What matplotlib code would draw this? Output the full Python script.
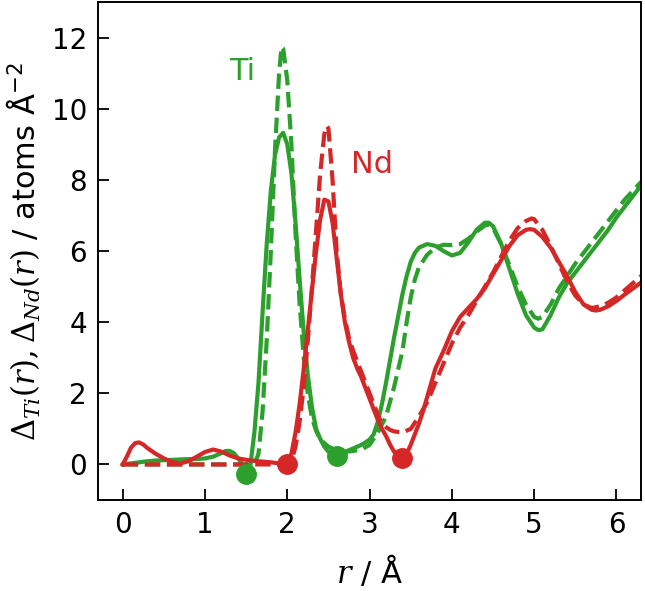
import numpy as np
import matplotlib
matplotlib.use('Agg')
import matplotlib.pyplot as plt

# Ti, solid
r_ti = [0.0, 0.1, 0.2, 0.3, 0.4, 0.5, 0.6, 0.7, 0.8, 0.9, 1.0, 1.1, 1.2, 1.25, 1.3,
        1.35, 1.4, 1.45, 1.5, 1.55, 1.6, 1.65, 1.7, 1.75, 1.8, 1.85, 1.9, 1.95, 2.0,
        2.05, 2.1, 2.15, 2.2, 2.25, 2.3, 2.35, 2.4, 2.45, 2.5, 2.55, 2.6, 2.7, 2.8,
        2.9, 2.95, 3.0, 3.05, 3.1, 3.15, 3.2, 3.25, 3.3, 3.35, 3.4, 3.45, 3.5, 3.55,
        3.6, 3.7, 3.8, 3.9, 4.0, 4.1, 4.2, 4.3, 4.4, 4.45, 4.5, 4.6, 4.7, 4.8, 4.9,
        5.0, 5.05, 5.1, 5.2, 5.3, 5.4, 5.5, 5.6, 5.7, 5.8, 5.9, 6.0, 6.1, 6.2, 6.3]
d_ti = [0.0, 0.03, 0.06, 0.09, 0.11, 0.12, 0.13, 0.14, 0.15, 0.15, 0.17, 0.22, 0.32, 0.38, 0.38,
        0.32, 0.18, 0.02, -0.22, -0.05, 0.9, 2.3, 4.3, 6.2, 7.7, 8.7, 9.2, 9.33, 9.0,
        8.2, 6.8, 5.2, 3.7, 2.5, 1.6, 1.0, 0.72, 0.5, 0.36, 0.28, 0.25, 0.35, 0.45,
        0.55, 0.62, 0.7, 0.85, 1.2, 1.7, 2.3, 2.95, 3.6, 4.2, 4.8, 5.3, 5.7, 5.95,
        6.1, 6.2, 6.15, 6.0, 5.88, 5.95, 6.25, 6.6, 6.8, 6.8, 6.7, 6.2, 5.5, 4.8, 4.2,
        3.85, 3.78, 3.8, 4.2, 4.7, 5.1, 5.4, 5.7, 6.0, 6.3, 6.6, 6.95, 7.25, 7.55, 7.85]

# Ti, dashed
r_ti2 = [0.0, 0.5, 1.0, 1.5, 1.6, 1.65, 1.7, 1.75, 1.8, 1.85, 1.9, 1.93, 1.95, 2.0,
         2.05, 2.1, 2.15, 2.2, 2.25, 2.3, 2.35, 2.4, 2.5, 2.6, 2.7, 2.8, 2.9, 3.0,
         3.1, 3.2, 3.3, 3.4, 3.45, 3.5, 3.55, 3.6, 3.7, 3.8, 3.9, 4.0, 4.1, 4.2,
         4.3, 4.4, 4.45, 4.5, 4.6, 4.7, 4.8, 4.9, 5.0, 5.05, 5.1, 5.2, 5.3, 5.4,
         5.5, 5.6, 5.7, 5.8, 5.9, 6.0, 6.1, 6.2, 6.3]
d_ti2 = [0.0, 0.0, 0.0, 0.0, 0.02, 0.3, 1.5, 3.5, 6.0, 8.8, 11.0, 11.75, 11.7, 10.8,
         9.0, 6.5, 4.5, 3.0, 1.96, 1.3, 0.95, 0.7, 0.5, 0.4, 0.35, 0.38, 0.42, 0.55,
         0.9, 1.35, 2.2, 3.2, 4.0, 4.7, 5.2, 5.55, 5.9, 6.1, 6.18, 6.17, 6.2, 6.35,
         6.55, 6.72, 6.75, 6.65, 6.2, 5.6, 5.0, 4.5, 4.15, 4.1, 4.15, 4.5, 4.95, 5.3,
         5.65, 5.95, 6.25, 6.55, 6.85, 7.15, 7.45, 7.7, 7.95]

# Nd, solid
r_nd = [0.0, 0.05, 0.1, 0.15, 0.2, 0.25, 0.3, 0.4, 0.5, 0.6, 0.7, 0.8, 0.9, 1.0, 1.1,
        1.2, 1.3, 1.4, 1.5, 1.6, 1.7, 1.8, 1.9, 2.0, 2.05, 2.1, 2.15, 2.2, 2.25, 2.3,
        2.35, 2.4, 2.45, 2.5, 2.55, 2.6, 2.65, 2.7, 2.75, 2.8, 2.85, 2.9, 2.95, 3.0,
        3.05, 3.1, 3.15, 3.2, 3.25, 3.3, 3.35, 3.4, 3.45, 3.5, 3.55, 3.6, 3.65, 3.7,
        3.75, 3.8, 3.9, 4.0, 4.1, 4.2, 4.3, 4.4, 4.5, 4.6, 4.7, 4.8, 4.9, 4.95, 5.0,
        5.1, 5.2, 5.3, 5.4, 5.5, 5.6, 5.7, 5.75, 5.8, 5.9, 6.0, 6.1, 6.2, 6.3]
d_nd = [0.0, 0.22, 0.47, 0.6, 0.62, 0.56, 0.46, 0.3, 0.17, 0.07, 0.03, 0.09, 0.22, 0.35, 0.42,
        0.36, 0.25, 0.17, 0.13, 0.1, 0.08, 0.06, 0.03, 0.0, 0.3, 0.9, 1.7, 2.7, 3.8, 4.9,
        6.0, 6.9, 7.45, 7.4, 6.8, 5.8, 4.8, 4.0, 3.45, 3.0, 2.7, 2.45, 2.15, 1.85,
        1.55, 1.25, 1.0, 0.8, 0.55, 0.35, 0.22, 0.18, 0.3, 0.55, 0.85, 1.15, 1.5, 1.9,
        2.3, 2.7, 3.2, 3.75, 4.15, 4.4, 4.65, 4.95, 5.35, 5.75, 6.15, 6.45, 6.6, 6.62, 6.6,
        6.4, 6.1, 5.7, 5.3, 4.85, 4.5, 4.35, 4.33, 4.35, 4.45, 4.6, 4.78, 4.95, 5.12]

# Nd, dashed
r_nd2 = [0.0, 0.5, 1.0, 1.5, 2.0, 2.05, 2.1, 2.15, 2.2, 2.25, 2.3, 2.35, 2.4, 2.45, 2.48,
         2.5, 2.55, 2.6, 2.65, 2.7, 2.75, 2.8, 2.85, 2.9, 2.95, 3.0, 3.05, 3.1, 3.15,
         3.2, 3.25, 3.3, 3.4, 3.5, 3.6, 3.7, 3.8, 3.9, 4.0, 4.1, 4.2, 4.3, 4.4, 4.5,
         4.6, 4.7, 4.8, 4.9, 4.97, 5.0, 5.1, 5.2, 5.3, 5.4, 5.5, 5.6, 5.7, 5.8, 5.9,
         6.0, 6.1, 6.2, 6.3]
d_nd2 = [0.0, 0.0, 0.0, 0.0, 0.0, 0.1, 0.5, 1.2, 2.2, 3.5, 5.0, 6.6, 8.2, 9.3, 9.52,
         9.45, 8.0, 6.0, 4.8, 4.1, 3.55, 3.2, 2.9, 2.6, 2.3, 2.0, 1.7, 1.4, 1.15,
         1.05, 0.97, 0.93, 0.9, 1.0, 1.35, 1.75, 2.3, 2.85, 3.4, 3.85, 4.2, 4.6, 5.0, 5.4,
         5.85, 6.3, 6.65, 6.85, 6.92, 6.9, 6.6, 6.15, 5.65, 5.15, 4.75, 4.5, 4.4, 4.45, 4.55,
         4.7, 4.9, 5.1, 5.3]

# integration limits
lim_ti_r = [1.5, 2.6]
lim_ti_d = [-0.28, 0.25]
lim_nd_r = [2.0, 3.4]
lim_nd_d = [0.0, 0.17]

green = '#2ca02c'
red = '#d62728'

plt.rcParams['mathtext.fontset'] = 'dejavuserif'

fig = plt.figure(figsize=(6.45, 5.91), dpi=100)
ax = fig.add_axes([0.152, 0.154, 0.842, 0.842])

ax.plot(r_ti, d_ti, color=green, lw=3)
ax.plot(r_ti2, d_ti2, color=green, lw=3, ls='--')
ax.plot(r_nd, d_nd, color=red, lw=3)
ax.plot(r_nd2, d_nd2, color=red, lw=3, ls='--')
ax.plot(lim_ti_r, lim_ti_d, 'o', color=green, ms=14)
ax.plot(lim_nd_r, lim_nd_d, 'o', color=red, ms=14)

ax.text(1.45, 11.05, 'Ti', color=green, fontsize=22, ha='center', va='center')
ax.text(3.03, 8.45, 'Nd', color=red, fontsize=22, ha='center', va='center')

ax.set_xlim(-0.3, 6.3)
ax.set_ylim(-1, 13)
ax.set_xticks(range(0, 7))
ax.set_yticks(range(0, 13, 2))
ax.tick_params(direction='in', length=8, width=1.3, labelsize=20, pad=8)
for s in ax.spines.values():
    s.set_linewidth(1.4)
ax.set_xlabel(r'$r$ / Å', fontsize=22, labelpad=10)
ax.set_ylabel(r'$\Delta_{Ti}(r), \Delta_{Nd}(r)$ / atoms Å$^{\mathsf{-2}}$', fontsize=22, labelpad=6)

plt.savefig('out.png', dpi=100)
